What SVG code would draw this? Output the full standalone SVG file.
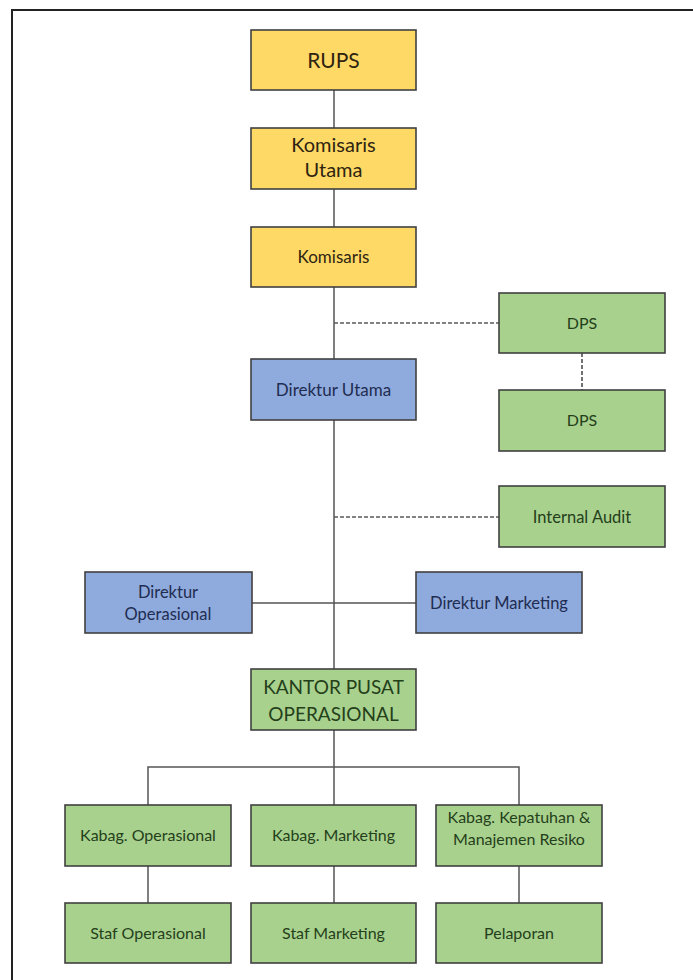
<svg xmlns="http://www.w3.org/2000/svg" width="693" height="980" viewBox="0 0 693 980">
<style>
  .box { stroke: #404040; stroke-width: 1.6; }
  .y { fill: #FFD966; }
  .b { fill: #8FAADC; }
  .g { fill: #A9D18E; }
  text { font-family: Lato, "Open Sans", "Liberation Sans", sans-serif; text-anchor: middle; }
  .ty { fill: #2e2410; }
  .tb { fill: #1f2d52; }
  .tg { fill: #24401a; }
  .ln { stroke: #555555; stroke-width: 1.5; fill: none; }
  .dash { stroke: #5a5a5a; stroke-width: 1.7; fill: none; stroke-dasharray: 4 2; }
  .frame { stroke: #222222; stroke-width: 2; fill: none; }
</style>
<rect x="0" y="0" width="693" height="980" fill="#ffffff"/>
<path class="frame" d="M12 980 V10 H693"/>

<g id="connectors">
  <path class="ln" d="M334 90 V128 M334 189 V227 M334 287 V359 M334 420 V669 M334 730 V805"/>
  <path class="ln" d="M252 603 H416"/>
  <path class="ln" d="M148 805 V767 H519 V805"/>
  <path class="ln" d="M148 866 V903 M334 866 V903 M519 866 V903"/>
  <path class="dash" d="M334 323 H499 M334 517 H499 M582 353 V390"/>
</g>

<g id="rups">
  <rect class="box y" x="251" y="30" width="165" height="60"/>
  <text class="ty" x="333.5" y="68" font-size="21">RUPS</text>
</g>
<g id="komisaris-utama">
  <rect class="box y" x="251" y="128" width="165" height="61"/>
  <text class="ty" x="333.5" y="152" font-size="20">Komisaris</text>
  <text class="ty" x="333.5" y="177" font-size="20">Utama</text>
</g>
<g id="komisaris">
  <rect class="box y" x="251" y="227" width="165" height="60"/>
  <text class="ty" x="333.5" y="263" font-size="17">Komisaris</text>
</g>
<g id="dps1">
  <rect class="box g" x="499" y="293" width="166" height="60"/>
  <text class="tg" x="582" y="329" font-size="16">DPS</text>
</g>
<g id="direktur-utama">
  <rect class="box b" x="251" y="359" width="165" height="61"/>
  <text class="tb" x="333.5" y="396" font-size="17">Direktur Utama</text>
</g>
<g id="dps2">
  <rect class="box g" x="499" y="390" width="166" height="61"/>
  <text class="tg" x="582" y="426" font-size="16">DPS</text>
</g>
<g id="internal-audit">
  <rect class="box g" x="499" y="486" width="166" height="61"/>
  <text class="tg" x="582" y="523" font-size="16.5">Internal Audit</text>
</g>
<g id="direktur-operasional">
  <rect class="box b" x="85" y="572" width="167" height="61"/>
  <text class="tb" x="168" y="598" font-size="16.5">Direktur</text>
  <text class="tb" x="168" y="620" font-size="16.5">Operasional</text>
</g>
<g id="direktur-marketing">
  <rect class="box b" x="416" y="572" width="166" height="61"/>
  <text class="tb" x="499" y="609" font-size="16.5">Direktur Marketing</text>
</g>
<g id="kantor-pusat">
  <rect class="box g" x="251" y="669" width="165" height="61"/>
  <text class="tg" x="333.5" y="694" font-size="19">KANTOR PUSAT</text>
  <text class="tg" x="333.5" y="721" font-size="19">OPERASIONAL</text>
</g>
<g id="kabag-operasional">
  <rect class="box g" x="65" y="805" width="166" height="61"/>
  <text class="tg" x="148" y="841" font-size="16">Kabag. Operasional</text>
</g>
<g id="kabag-marketing">
  <rect class="box g" x="251" y="805" width="165" height="61"/>
  <text class="tg" x="333.5" y="841" font-size="16">Kabag. Marketing</text>
</g>
<g id="kabag-kepatuhan">
  <rect class="box g" x="436" y="805" width="166" height="61"/>
  <text class="tg" x="519" y="823" font-size="16">Kabag. Kepatuhan &amp;</text>
  <text class="tg" x="519" y="845" font-size="16">Manajemen Resiko</text>
</g>
<g id="staf-operasional">
  <rect class="box g" x="65" y="903" width="166" height="60"/>
  <text class="tg" x="148" y="939" font-size="16">Staf Operasional</text>
</g>
<g id="staf-marketing">
  <rect class="box g" x="251" y="903" width="165" height="60"/>
  <text class="tg" x="333.5" y="939" font-size="16">Staf Marketing</text>
</g>
<g id="pelaporan">
  <rect class="box g" x="436" y="903" width="166" height="60"/>
  <text class="tg" x="519" y="939" font-size="16">Pelaporan</text>
</g>
</svg>
